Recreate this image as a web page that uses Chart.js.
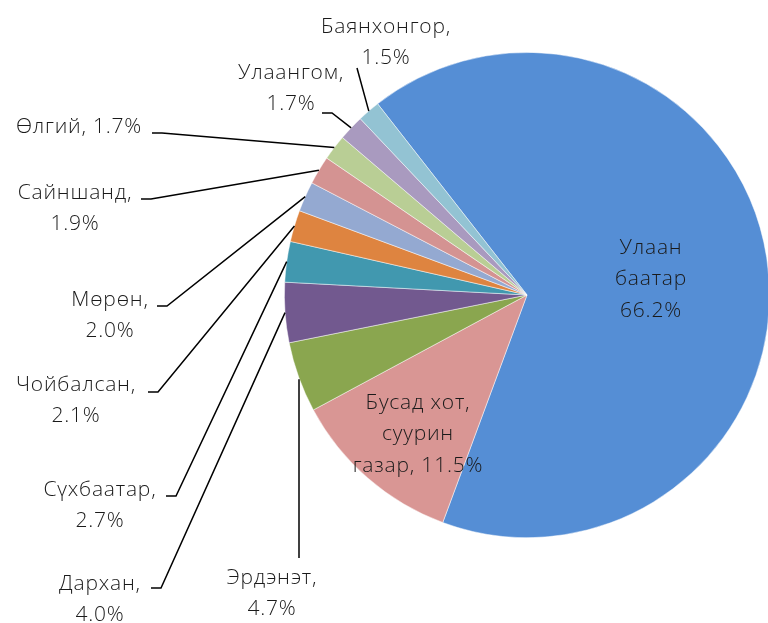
<!DOCTYPE html>
<html>
<head>
<meta charset="utf-8">
<script src="https://cdn.jsdelivr.net/npm/chart.js@4/dist/chart.umd.min.js"></script>
<style>
  html, body { margin: 0; padding: 0; background: #fff; overflow: hidden; }
  #wrap { position: absolute; left: 0; top: 0; width: 800px; height: 623px; }
</style>
</head>
<body>
<div id="wrap"><canvas id="c" width="800" height="623"></canvas></div>
<script>
// ---- data ----
const names = ['Улаан баатар', 'Бусад хот, суурин газар', 'Эрдэнэт', 'Дархан', 'Сүхбаатар',
  'Чойбалсан', 'Мөрөн', 'Сайншанд', 'Өлгий', 'Улаангом', 'Баянхонгор'];
const shares = [66.2, 11.5, 4.7, 4.0, 2.7, 2.1, 2.0, 1.9, 1.7, 1.7, 1.5];
const sliceColors = ['#558ed5', '#d99694', '#8aa64f', '#72598f', '#4198af', '#de8440',
  '#94a9d1', '#d49392', '#b9ce95', '#a99abf', '#93c3d3'];

const pct = i => shares[i].toFixed(1) + '%';
// label text lines, built from names and shares
const labelLines = [
  ['Улаан', 'баатар', pct(0)],
  ['Бусад хот,', 'суурин', 'газар, ' + pct(1)],
  [names[2] + ',', pct(2)],
  [names[3] + ',', pct(3)],
  [names[4] + ',', pct(4)],
  [names[5] + ',', pct(5)],
  [names[6] + ',', pct(6)],
  [names[7] + ',', pct(7)],
  [names[8] + ', ' + pct(8)],
  [names[9] + ',', pct(9)],
  [names[10] + ',', pct(10)]
];
// label layout: text centre of first line; leader start (elbow) or null (inside)
const labelLayout = [
  { x: 651, y: 248, leader: null },
  { x: 418, y: 403, leader: null },
  { x: 272, y: 578, leader: { type: 'v', x: 299, y: 558 } },
  { x: 100, y: 584, leader: { type: 'h', x: 151, y: 588 } },
  { x: 100, y: 490, leader: { type: 'h', x: 166, y: 496 } },
  { x: 76,  y: 385, leader: { type: 'h', x: 148, y: 392 } },
  { x: 110, y: 300, leader: { type: 'h', x: 157, y: 306 } },
  { x: 75,  y: 193, leader: { type: 'h', x: 141, y: 199 } },
  { x: 79,  y: 127, leader: { type: 'h', x: 152, y: 133 } },
  { x: 291, y: 73,  leader: { type: 'h', x: 322, y: 113 } },
  { x: 386, y: 27,  leader: { type: 'd', x: 357, y: 68 } }
];

const FONT = '300 21px "Open Sans", "Noto Sans", sans-serif';
const LINE_H = 31.5;

const labelPlugin = {
  id: 'pieLabels',
  afterDraw(chart) {
    const ctx = chart.ctx;
    const meta = chart.getDatasetMeta(0);
    ctx.save();
    ctx.font = FONT;
    try { ctx.letterSpacing = '0.8px'; } catch (e) {}
    ctx.fillStyle = '#1a1a1a';
    ctx.textAlign = 'center';
    ctx.textBaseline = 'middle';
    meta.data.forEach((arc, i) => {
      const lay = labelLayout[i];
      const lines = labelLines[i];
      lines.forEach((t, k) => ctx.fillText(t, lay.x, lay.y + k * LINE_H));
      if (lay.leader) {
        const mid = (arc.startAngle + arc.endAngle) / 2;
        const r = arc.outerRadius;
        const ax = arc.x + Math.cos(mid) * r;
        const ay = arc.y + Math.sin(mid) * r;
        ctx.strokeStyle = '#000';
        ctx.lineWidth = 1.5;
        ctx.beginPath();
        const L = lay.leader;
        if (L.type === 'h') {
          ctx.moveTo(L.x, L.y);
          ctx.lineTo(L.x + 10, L.y);
          ctx.lineTo(ax, ay);
        } else if (L.type === 'v') {
          ctx.moveTo(L.x, L.y);
          ctx.lineTo(L.x, ay + 2);
        } else {
          ctx.moveTo(L.x, L.y);
          ctx.lineTo(ax, ay);
        }
        ctx.stroke();
      }
    });
    ctx.restore();
  }
};

new Chart(document.getElementById('c'), {
  type: 'pie',
  data: {
    labels: names,
    datasets: [{
      data: shares,
      backgroundColor: sliceColors,
      borderColor: 'rgba(255,255,255,0.6)',
      borderWidth: 0.8
    }]
  },
  options: {
    responsive: false,
    animation: false,
    rotation: -38,
    layout: { padding: { left: 284, right: 30, top: 52, bottom: 85 } },
    plugins: { legend: { display: false }, tooltip: { enabled: false } }
  },
  plugins: [labelPlugin]
});
</script>
</body>
</html>
